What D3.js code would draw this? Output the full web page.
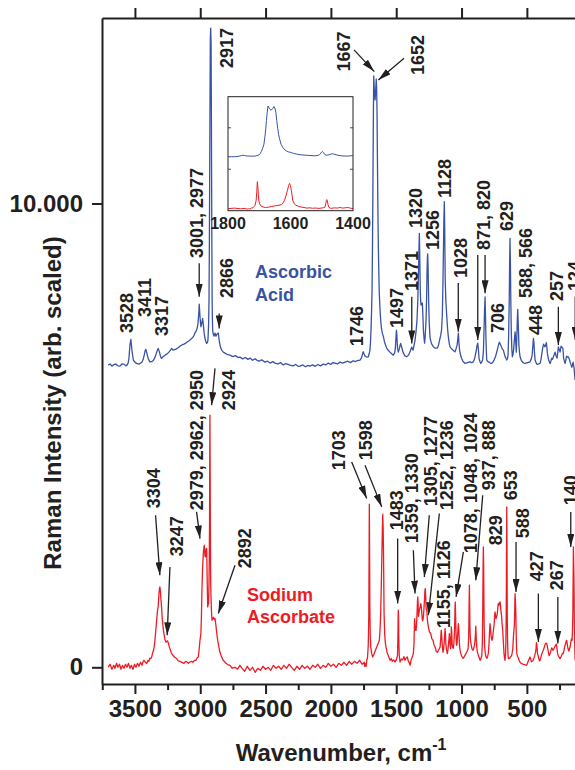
<!DOCTYPE html>
<html><head><meta charset="utf-8">
<script src="https://cdn.jsdelivr.net/npm/d3@7"></script>
<style>
html,body{margin:0;padding:0;background:#fff;}
svg{display:block;font-family:"Liberation Sans",Arial,Helvetica,sans-serif;}
</style></head><body>
<svg id="c" width="575" height="770"></svg>
<script>
// ---------- data ----------
const xTicks = [3500, 3000, 2500, 2000, 1500, 1000, 500];
const xMinorTicks = [3750, 3250, 2750, 2250, 1750, 1250, 750, 250];
const yTicks = [0, 10000];
const yTickLabels = ["0", "10.000"];
const insetXTicks = [1800, 1600, 1400];
const insetFrameTicks = [1, 2];

// Ascorbic acid (blue), [wavenumber, intensity]
const ascorbicAcid = [
[3704,6516],[3690,6540],[3676,6494],[3660,6530],[3646,6537],[3630,6500],[3615,6494],[3600,6540],[3584,6537],[3570,6500],[3561,6516],[3552,6560],[3546,6660],[3538,6950],[3531,7070],[3523,6840],[3512,6620],[3500,6580],[3487,6552],[3469,6537],[3456,6560],[3446,6580],[3436,6650],[3428,6740],[3421,6839],[3416,6854],[3408,6770],[3397,6645],[3385,6587],[3372,6590],[3362,6609],[3350,6660],[3343,6710],[3335,6780],[3328,6839],[3322,6876],[3312,6796],[3304,6700],[3296,6660],[3288,6690],[3278,6710],[3265,6740],[3255,6753],[3240,6796],[3228,6840],[3219,6876],[3209,6839],[3198,6850],[3186,6861],[3170,6890],[3155,6925],[3140,6950],[3125,6968],[3110,6990],[3102,7012],[3090,7030],[3079,7055],[3066,7090],[3056,7119],[3047,7160],[3041,7206],[3030,7260],[3023,7314],[3017,7420],[3014,7530],[3010,7700],[3008,7832],[3005,7700],[3001,7523],[2995,7342],[2990,7400],[2987,7443],[2982,7523],[2976,7379],[2970,7200],[2964,7098],[2957,7020],[2951,6984],[2945,7000],[2941,7055],[2936,7400],[2933,7918],[2930,9200],[2927,11154],[2925,12400],[2923,13527],[2920,13780],[2917,13420],[2915,12100],[2913,10507],[2911,9000],[2909,7918],[2907,7500],[2905,7271],[2900,7180],[2895,7141],[2891,7180],[2887,7206],[2883,7160],[2880,7141],[2876,7160],[2872,7184],[2866,7200],[2862,7206],[2857,7100],[2853,7012],[2845,6900],[2836,6839],[2825,6800],[2811,6775],
[2790,6740],[2773,6731],[2750,6700],[2730,6720],[2710,6680],[2696,6688],[2675,6650],[2655,6680],[2635,6640],[2619,6667],[2600,6620],[2580,6650],[2568,6624],[2550,6600],[2530,6630],[2505,6580],[2485,6600],[2465,6560],[2445,6590],[2428,6559],[2405,6540],[2385,6570],[2365,6520],[2345,6550],[2313,6516],[2290,6500],[2270,6530],[2250,6490],[2237,6494],[2215,6520],[2195,6480],[2175,6510],[2160,6494],[2140,6520],[2120,6490],[2100,6530],[2080,6500],[2058,6537],[2040,6520],[2020,6560],[2000,6530],[1985,6570],[1969,6559],[1950,6540],[1930,6580],[1910,6560],[1892,6580],[1870,6600],[1850,6570],[1830,6610],[1815,6590],[1802,6609],
[1790,6620],[1777,6624],[1768,6660],[1762,6710],[1756,6780],[1752,6803],[1747,6760],[1739,6710],[1726,6690],[1714,6695],[1707,6760],[1701,6839],[1697,7000],[1693,7271],[1689,7650],[1685,8134],[1682,9000],[1679,10075],[1677,11000],[1675,11801],[1673,12500],[1672,12751],[1670,12600],[1667,12400],[1662,12233],[1657,12450],[1653,12686],[1650,12500],[1647,12017],[1644,11000],[1641,10075],[1638,9300],[1635,8781],[1630,8100],[1624,7702],[1618,7450],[1613,7314],[1606,7200],[1599,7141],[1590,7020],[1582,6950],[1573,6882],[1560,6830],[1548,6796],[1535,6760],[1522,6731],[1512,6780],[1507,6870],[1503,7050],[1500,7200],[1498,7271],[1495,7150],[1490,6882],[1484,6796],[1476,6870],[1470,6950],[1466,6984],[1458,6900],[1448,6796],[1435,6720],[1420,6695],[1410,6720],[1402,6753],[1392,6820],[1385,6880],[1381,6904],[1376,6870],[1371,6839],[1363,6950],[1356,7055],[1348,7250],[1341,7486],[1335,7900],[1329,8565],[1326,9000],[1323,9357],[1320,8900],[1316,8134],[1313,7900],[1310,7810],[1305,7853],[1300,7853],[1296,7600],[1292,7271],[1287,7100],[1283,6990],[1278,7150],[1272,7486],[1268,7900],[1264,8565],[1261,8850],[1259,8911],[1256,8600],[1252,7918],[1247,7400],[1241,7098],[1230,6980],[1216,6911],[1200,6880],[1185,6882],[1176,6950],[1168,7055],[1160,7150],[1153,7271],[1147,7600],[1142,8349],[1138,9100],[1135,9700],[1132,10039],[1129,9500],[1125,8349],[1120,7900],[1113,7558],[1107,7300],[1100,7098],[1094,6980],[1088,6911],[1077,6870],[1065,6839],[1058,6820],[1050,6803],[1042,6870],[1034,6947],[1028,7100],[1024,7206],[1020,7000],[1015,6839],[1010,6760],[1004,6695],[990,6600],[973,6552],[955,6570],[935,6587],[923,6570],[912,6580],[904,6620],[897,6695],[888,6820],[882,6930],[876,6990],[871,6850],[866,6660],[860,6600],[853,6552],[846,6580],[839,6624],[833,6800],[828,7271],[824,7700],[820,7989],[817,7600],[813,7055],[810,6800],[807,6624],[798,6590],[789,6580],[780,6560],[769,6552],[760,6580],[751,6624],[740,6700],[730,6803],[720,6920],[711,7012],[702,6960],[694,6904],[687,6860],[680,6839],[667,6700],[654,6624],[648,6660],[644,6731],[640,7100],[637,7600],[635,7918],[632,8700],[629,9249],[626,8700],[623,7918],[619,7200],[615,6850],[611,6695],[606,6750],[602,6839],[596,7050],[593,7150],[590,7234],[586,7050],[581,6796],[577,7100],[573,7500],[570,7717],[566,7400],[561,6947],[556,6780],[552,6695],[543,6620],[533,6580],[524,6560],[514,6552],[495,6570],[476,6587],[466,6650],[460,6731],[455,6900],[452,7020],[450,7091],[446,7000],[442,6796],[437,6624],[430,6570],[422,6530],[410,6540],[399,6552],[391,6650],[384,6796],[378,6900],[372,6968],[366,6930],[361,6911],[356,6950],[351,7000],[347,6900],[343,6768],[333,6620],[322,6552],[316,6600],[311,6660],[304,6640],[297,6695],[290,6750],[284,6796],[277,6720],[269,6667],[264,6780],[259,6911],[252,6850],[246,6796],[242,6860],[238,6925],[232,6900],[225,6882],[221,6760],[219,6667],[213,6600],[207,6552],[201,6640],[196,6710],[189,6690],[182,6695],[175,6640],[169,6580],[162,6520],[156,6470],[151,6520],[146,6580],[139,6450],[131,6194]
];

// Sodium ascorbate (red), [wavenumber, intensity]
const sodiumAscorbate = [
[3704,6],[3690,65],[3676,-43],[3662,43],[3653,-22],[3640,86],[3630,0],[3618,65],[3607,-43],[3595,43],[3584,-22],[3572,65],[3561,0],[3549,86],[3538,-22],[3527,43],[3515,-43],[3503,65],[3492,0],[3480,86],[3469,22],[3457,108],[3446,43],[3438,120],[3431,151],[3420,108],[3410,80],[3400,150],[3393,129],[3385,200],[3378,190],[3372,222],[3365,300],[3358,367],[3352,450],[3347,583],[3340,800],[3334,1000],[3328,1200],[3322,1301],[3318,1500],[3315,1620],[3312,1700],[3309,1732],[3305,1650],[3302,1500],[3299,1400],[3296,1301],[3291,1050],[3286,906],[3282,800],[3278,727],[3270,600],[3262,540],[3256,560],[3250,570],[3244,520],[3238,450],[3232,403],[3220,300],[3209,259],[3195,216],[3181,188],[3168,140],[3155,129],[3140,108],[3125,86],[3110,129],[3102,114],[3090,86],[3079,114],[3066,129],[3056,108],[3045,151],[3033,151],[3024,200],[3015,222],[3008,400],[3002,583],[2995,727],[2991,1100],[2987,1661],[2982,2150],[2976,2481],[2972,2580],[2969,2632],[2966,2500],[2964,2400],[2961,2380],[2959,2390],[2955,2550],[2951,2561],[2949,2300],[2947,1900],[2943,1301],[2939,1359],[2936,1374],[2933,1800],[2931,2300],[2929,3000],[2928,3800],[2926,5437],[2924,4200],[2923,3200],[2921,2200],[2920,1800],[2917,1446],[2913,1150],[2910,1014],[2905,1050],[2899,1079],[2893,1030],[2887,1051],[2882,950],[2876,798],[2870,650],[2862,511],[2855,400],[2849,324],[2836,220],[2824,151],[2810,110],[2803,86],[2790,60],[2773,43],[2755,-20],[2734,0],[2715,-40],[2696,43],
[2680,-22],[2660,-86],[2640,22],[2620,-65],[2600,0],[2580,-108],[2560,-22],[2540,-65],[2520,22],[2500,-43],[2480,0],[2460,-65],[2440,43],[2420,-22],[2400,22],[2380,-43],[2360,43],[2340,-22],[2320,65],[2300,0],[2280,-65],[2260,22],[2240,-43],[2220,43],[2200,-22],[2180,22],[2160,-43],[2140,43],[2120,0],[2100,65],[2080,-22],[2060,43],[2040,0],[2020,86],[2000,22],[1980,65],[1960,0],[1940,86],[1920,43],[1900,108],[1880,43],[1860,129],[1840,65],[1820,129],[1800,86],[1780,151],[1760,65],[1745,108],[1740,22],[1735,80],[1730,22],
[1726,151],[1720,200],[1714,475],[1710,1100],[1708,2200],[1706,3517],[1704,2600],[1702,1300],[1699,700],[1695,438],[1688,300],[1680,222],[1670,280],[1660,360],[1649,438],[1640,500],[1629,583],[1624,800],[1619,1159],[1614,1800],[1610,2395],[1606,3000],[1603,3301],[1600,3000],[1597,2395],[1593,1159],[1588,700],[1583,520],[1578,438],[1570,320],[1560,250],[1547,151],[1538,190],[1530,130],[1520,160],[1509,114],[1500,160],[1495,200],[1490,259],[1487,700],[1485,1150],[1484,1230],[1482,1100],[1480,600],[1477,259],[1471,114],[1460,180],[1450,160],[1441,230],[1433,151],[1424,200],[1415,222],[1406,120],[1400,100],[1394,43],[1387,150],[1380,200],[1374,250],[1369,296],[1364,500],[1361,900],[1359,1051],[1356,900],[1352,800],[1348,798],[1344,950],[1340,1200],[1337,1450],[1335,1517],[1332,1350],[1330,1100],[1327,1150],[1323,1230],[1319,1280],[1316,1300],[1312,1374],[1308,1300],[1305,1200],[1301,1050],[1298,1000],[1294,1050],[1292,1085],[1288,1250],[1285,1400],[1281,1620],[1279,1680],[1277,1698],[1274,1500],[1272,1300],[1269,1250],[1266,1230],[1261,1000],[1256,906],[1252,850],[1249,798],[1245,760],[1242,750],[1239,740],[1236,727],[1232,680],[1228,620],[1223,600],[1218,583],[1214,520],[1210,480],[1203,438],[1198,400],[1195,350],[1190,330],[1184,324],[1178,360],[1175,380],[1170,400],[1164,438],[1160,600],[1157,750],[1155,798],[1152,700],[1150,600],[1146,420],[1142,324],[1138,380],[1134,500],[1130,650],[1126,835],[1123,700],[1120,500],[1115,380],[1109,296],[1104,380],[1100,500],[1096,620],[1093,727],[1090,620],[1088,500],[1084,400],[1081,550],[1078,869],[1075,750],[1072,500],[1068,430],[1063,410],[1059,500],[1055,700],[1052,1000],[1050,1300],[1048,1409],[1046,1200],[1043,800],[1040,560],[1038,475],[1034,520],[1030,700],[1027,850],[1024,943],[1021,800],[1018,600],[1015,450],[1011,367],[1006,300],[1000,250],[994,220],[988,194],[982,220],[975,250],[968,290],[960,330],[955,360],[950,400],[946,600],[944,900],[942,1400],[940,1769],[938,1400],[936,900],[934,700],[931,583],[926,480],[920,400],[916,380],[912,367],[906,420],[900,500],[896,600],[894,700],[891,885],[889,750],[887,600],[884,450],[881,367],[876,300],[870,250],[864,200],[858,151],[852,180],[845,250],[841,500],[839,900],[837,1500],[835,2200],[833,2596],[831,2200],[829,1500],[827,900],[824,475],[820,350],[815,250],[810,210],[805,194],[800,240],[795,300],[790,500],[786,750],[782,943],[778,820],[775,700],[771,620],[767,583],[763,630],[760,700],[755,820],[750,950],[747,1100],[744,1193],[740,1120],[736,1050],[732,1090],[728,1122],[725,1200],[722,1300],[720,1350],[718,1374],[715,1330],[712,1380],[708,1400],[705,1409],[702,1330],[700,1250],[697,1180],[694,1122],[690,950],[685,798],[680,550],[675,300],[671,200],[667,151],[663,300],[661,500],[659,900],[657,1700],[655,2800],[654,3458],[652,2500],[650,1100],[648,600],[646,400],[644,250],[642,188],[636,190],[630,200],[623,230],[616,259],[612,320],[608,400],[605,550],[602,700],[599,800],[596,900],[594,1100],[592,1400],[590,1590],[588,1450],[586,1300],[584,1100],[583,900],[580,500],[577,296],[572,240],[565,200],[558,140],[550,100],[545,90],[539,80],[530,70],[520,60],[510,50],[501,43],[495,90],[490,130],[483,180],[476,222],[470,170],[465,120],[459,130],[453,151],[446,200],[440,250],[434,320],[430,400],[428,480],[427,530],[425,500],[424,475],[421,380],[419,300],[416,270],[414,259],[410,200],[405,150],[402,140],[399,151],[394,200],[390,250],[384,300],[379,340],[374,367],[367,430],[360,500],[354,520],[348,511],[344,460],[340,400],[335,320],[330,250],[326,270],[322,296],[316,360],[310,420],[305,390],[299,367],[292,410],[285,450],[280,480],[275,500],[273,470],[271,438],[268,370],[265,300],[263,280],[261,259],[255,230],[250,200],[246,188],[240,220],[235,250],[231,280],[228,300],[225,300],[221,296],[215,380],[210,450],[205,500],[200,550],[197,570],[195,583],[190,480],[185,400],[181,370],[178,350],[174,400],[169,438],[165,520],[160,600],[157,620],[154,583],[151,800],[148,1200],[146,1900],[144,2596],[142,2300],[140,2000],[138,1500],[137,1014],[134,500],[131,151]
];

// peak annotations: [text, wavenumber, intensity] (text start, rotated)
const blueLabels = [
["3528",3515,7206],["3411",3377,7551],["3317",3247,7141],["3001, 2977",2979,8824],["2917",2750,12923],["2866",2750,7961],["1746",1754,6925],["1667",1854,12848],["1652",1287,12772],["1497",1448,7314],["1371",1333,8112],["1320",1306,9471],["1256",1172,8997],["1128",1077,10119],["1028",958,8393],["871, 820",782,8997],["706",675,7206],["629",606,9407],["588, 566",464,7961],["448",388,7163],["257",223,7896],["124",85,8112]
];
const blueArrows = [
[3008,8710,3008,7989],[2855,7631,2855,7307],[1823,13312,1668,12844],[1440,13133,1637,12664],[1381,7989,1381,6984],[1025,8285,1025,7234],[876,8889,876,7055],[820,8889,820,8063],[259,7773,259,6947],[130,7990,130,7055]
];
const redLabels = [
["3304",3305,3430],["3247",3133,2395],["2979, 2962, 2950",2979,3387],["2924",2734,5545],["2892",2608,2136],["1703",1892,4250],["1598",1689,4466],["1483",1448,2956],["1359, 1330",1333,2675],["1305, 1277",1191,3474],["1252, 1236",1065,3387],["1155, 1126",1088,841],["1078, 1048, 1024",885,2460],["937, 888",744,3819],["829",694,2632],["653",579,3603],["588",483,2783],["427",376,1855],["267",223,1661],["140",119,3495]
];
const redArrows = [
[3342,3279,3309,1985],[3232,2164,3253,690],[3028,3350,3002,2776],[2887,6445,2913,5652],[2734,2201,2862,1159],[1841,4429,1726,3640],[1739,4358,1611,3459],[1489,2776,1489,1374],[1369,2524,1356,1590],[1247,3279,1285,1948],[1170,3316,1254,1122],[986,2488,1042,1517],[838,3711,891,1877],[583,2703,583,1625],[412,1590,412,546],[263,1517,263,511],[164,3350,164,2596]
];
const seriesNames = [["Ascorbic","Acid"],["Sodium","Ascorbate"]];
const seriesNamePos = [[2581,8393,7903],[2642,1424,956]];

// ---------- drawing ----------
const BLUE = "#3953a4", RED = "#ed1c24", INK = "#231f20";
const svg = d3.select("#c");
const P = {left:102, right:592.2, top:18, bottom:684};
const x = d3.scaleLinear().domain([3752, 0]).range([P.left, P.right]);
const y = d3.scaleLinear().domain([-360, 14000]).range([P.bottom, P.top]);

const defs = svg.append("defs");
defs.append("clipPath").attr("id","plotclip").append("rect")
  .attr("x",P.left).attr("y",P.top).attr("width",P.right-P.left).attr("height",P.bottom-P.top);
defs.append("marker").attr("id","ah").attr("viewBox","0 0 13 7").attr("refX",13).attr("refY",3.5)
  .attr("markerWidth",13).attr("markerHeight",7).attr("markerUnits","userSpaceOnUse").attr("orient","auto")
  .append("path").attr("d","M0,0L13,3.5L0,7Z").attr("fill",INK);

const line = d3.line().x(d=>x(d[0])).y(d=>y(d[1]));
const spec = svg.append("g").attr("clip-path","url(#plotclip)");
spec.append("path").datum(ascorbicAcid).attr("d",line).attr("fill","none").attr("stroke",BLUE).attr("stroke-width",1.3).attr("stroke-linejoin","round");
spec.append("path").datum(sodiumAscorbate).attr("d",line).attr("fill","none").attr("stroke",RED).attr("stroke-width",1.3).attr("stroke-linejoin","round");

// axes
function styleAxis(g){
  g.select(".domain").attr("stroke",INK).attr("stroke-width",2);
  g.selectAll(".tick line").attr("stroke",INK).attr("stroke-width",2);
  g.selectAll(".tick text").attr("fill",INK).attr("font-size",24).attr("font-weight","bold")
   .attr("font-family","'Liberation Sans',Arial,sans-serif");
}
svg.append("g").attr("transform",`translate(0,${P.bottom})`)
  .call(d3.axisBottom(x).tickValues(xMinorTicks).tickSize(6).tickSizeOuter(0).tickFormat(""))
  .call(g=>{g.select(".domain").remove(); g.selectAll(".tick line").attr("stroke",INK).attr("stroke-width",2);});
svg.append("g").attr("transform",`translate(0,${P.bottom})`)
  .call(d3.axisBottom(x).tickValues(xTicks).tickSize(10).tickSizeOuter(0).tickPadding(6).tickFormat(d3.format("d")))
  .call(styleAxis);
svg.append("g").attr("transform",`translate(0,${P.top})`)
  .call(d3.axisTop(x).tickValues(xTicks).tickSize(10).tickSizeOuter(0).tickFormat(""))
  .call(styleAxis);
svg.append("g").attr("transform",`translate(${P.left},0)`)
  .call(d3.axisLeft(y).tickValues(yTicks).tickSize(10).tickSizeOuter(0).tickPadding(9).tickFormat((d,i)=>yTickLabels[i]))
  .call(styleAxis);

// axis titles
svg.append("text").attr("transform",`translate(61,${(P.top+P.bottom)/2+52}) rotate(-90)`)
  .attr("text-anchor","middle").attr("font-size",24).attr("font-weight","bold").attr("fill",INK)
  .text("Raman Intensity (arb. scaled)");
const xt = svg.append("text").attr("x",(P.left+P.right)/2-6).attr("y",761).attr("text-anchor","middle")
  .attr("font-size",24).attr("font-weight","bold").attr("fill",INK);
xt.append("tspan").text("Wavenumber, cm");
xt.append("tspan").attr("font-size",16).attr("dy",-11).text("-1");

// annotations
function drawLabels(arr){
  svg.append("g").selectAll("text").data(arr).join("text")
    .attr("transform",d=>`translate(${x(d[1])},${y(d[2])}) rotate(-90)`)
    .attr("font-size",18).attr("font-weight","bold").attr("fill",INK).text(d=>d[0]);
}
function drawArrows(arr){
  svg.append("g").selectAll("line").data(arr).join("line")
    .attr("x1",d=>x(d[0])).attr("y1",d=>y(d[1])).attr("x2",d=>x(d[2])).attr("y2",d=>y(d[3]))
    .attr("stroke",INK).attr("stroke-width",1.3).attr("marker-end","url(#ah)");
}
drawLabels(blueLabels); drawArrows(blueArrows);
drawLabels(redLabels); drawArrows(redArrows);

// series names
[BLUE, RED].forEach((c,i)=>{
  const p = seriesNamePos[i];
  seriesNames[i].forEach((t,j)=>{
    svg.append("text").attr("x",x(p[0])).attr("y",y(p[1+j])).attr("font-size",18).attr("font-weight","bold")
      .attr("fill",c).text(t);
  });
});

// inset
const IB = {x0:228, y0:96.7, x1:353, y1:210.7};
const ix = d3.scaleLinear().domain([1800,1400]).range([IB.x0, IB.x1]);
const iyBlue = d3.scaleLinear().domain([6624, 12751]).range([156.7, 106]);
const iyRed = d3.scaleLinear().domain([0, 3517]).range([209.3, 181.7]);
const iframe = d3.scaleLinear().domain([0, 2.75]).range([IB.y1, IB.y0]);
defs.append("clipPath").attr("id","insetclip").append("rect")
  .attr("x",IB.x0).attr("y",IB.y0).attr("width",IB.x1-IB.x0).attr("height",IB.y1-IB.y0);
const inset = svg.append("g");
inset.append("rect").attr("x",IB.x0).attr("y",IB.y0).attr("width",IB.x1-IB.x0).attr("height",IB.y1-IB.y0)
  .attr("fill","#fff");
const ig = inset.append("g").attr("clip-path","url(#insetclip)");
ig.append("path").datum(ascorbicAcid.filter(d=>d[0]<=1830&&d[0]>=1370))
  .attr("d",d3.line().x(d=>ix(d[0])).y(d=>iyBlue(d[1]))).attr("fill","none").attr("stroke",BLUE).attr("stroke-width",1);
ig.append("path").datum(sodiumAscorbate.filter(d=>d[0]<=1830&&d[0]>=1370))
  .attr("d",d3.line().x(d=>ix(d[0])).y(d=>iyRed(d[1]))).attr("fill","none").attr("stroke",RED).attr("stroke-width",1);
inset.append("rect").attr("x",IB.x0).attr("y",IB.y0).attr("width",IB.x1-IB.x0).attr("height",IB.y1-IB.y0)
  .attr("fill","none").attr("stroke",INK).attr("stroke-width",1);
insetFrameTicks.forEach(t=>{
  inset.append("line").attr("x1",IB.x0).attr("x2",IB.x0+3).attr("y1",iframe(t)).attr("y2",iframe(t)).attr("stroke",INK).attr("stroke-width",0.8);
  inset.append("line").attr("x1",IB.x1).attr("x2",IB.x1-3).attr("y1",iframe(t)).attr("y2",iframe(t)).attr("stroke",INK).attr("stroke-width",0.8);
});
inset.selectAll("text.il").data(insetXTicks).join("text").attr("class","il")
  .attr("x",d=>ix(d)).attr("y",IB.y1+18).attr("text-anchor","middle")
  .attr("font-size",16).attr("font-weight","bold").attr("fill",INK).text(d=>d);
</script>
</body></html>
